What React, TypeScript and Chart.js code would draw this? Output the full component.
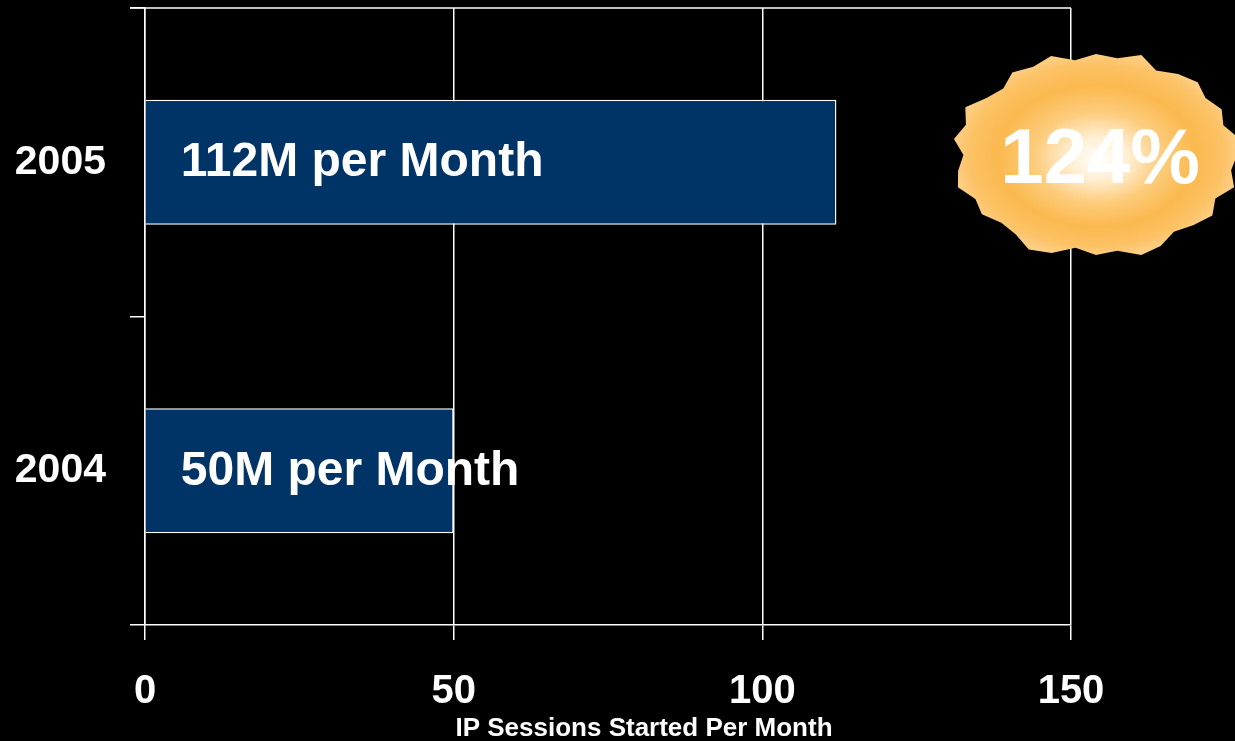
import React, { useEffect, useRef } from "react";
import { Chart, registerables } from "chart.js";

Chart.register(...registerables);

const categories = ["2005", "2004"];
const sessions = [112, 50];
const barLabels = ["112M per Month", "50M per Month"];
const xTicks = [0, 50, 100, 150];
const axisTitle = "IP Sessions Started Per Month";
const growthLabel = "124%";

const FONT = "'Liberation Sans', Arial, Helvetica, sans-serif";
const burstJitter = [
  1.0, 0.97, 1.03, 0.95, 1.02, 0.98, 0.94, 1.01, 1.04, 0.96, 0.99, 0.93,
  1.02, 1.05, 0.97, 0.95, 1.0, 0.96, 1.03, 0.99, 0.94, 1.02, 0.97, 1.04,
  0.96, 0.93, 1.01, 0.98, 1.03, 0.95, 1.0, 0.97, 1.04, 0.94, 0.99, 1.02,
  0.96, 1.0, 0.95, 1.03,
];

const overlayPlugin = {
  id: "overlay",
  afterDatasetsDraw(chart: any) {
    const ctx = chart.ctx;
    const meta = chart.getDatasetMeta(0);
    ctx.save();
    ctx.fillStyle = "#ffffff";
    ctx.font = `bold 48px ${FONT}`;
    ctx.textBaseline = "middle";
    ctx.textAlign = "left";
    meta.data.forEach((bar: any, i: number) => {
      ctx.fillText(barLabels[i], bar.base + 35, bar.y + 1);
    });
    ctx.restore();
  },
  afterDraw(chart: any) {
    const ctx = chart.ctx;
    const area = chart.chartArea;
    ctx.save();
    ctx.strokeStyle = "#ffffff";
    ctx.lineWidth = 1.5;
    ctx.beginPath();
    ctx.moveTo(area.left - 15, area.top);
    ctx.lineTo(area.right, area.top);
    ctx.stroke();

    ctx.fillStyle = "#ffffff";
    ctx.font = `bold 26px ${FONT}`;
    ctx.textAlign = "center";
    ctx.textBaseline = "middle";
    ctx.fillText(axisTitle, (area.left + area.right) / 2 + 36, area.bottom + 104);

    const cx = area.right + 25;
    const cy = area.top + 147;
    const rx = 141;
    const ry = 101;
    const n = burstJitter.length;
    ctx.beginPath();
    for (let i = 0; i < n; i++) {
      const a = (i / n) * Math.PI * 2;
      const r = burstJitter[i];
      const px = cx + Math.cos(a) * rx * r;
      const py = cy + Math.sin(a) * ry * r;
      if (i === 0) ctx.moveTo(px, py);
      else ctx.lineTo(px, py);
    }
    ctx.closePath();
    ctx.save();
    ctx.translate(cx, cy);
    ctx.scale(1, ry / rx);
    const g = ctx.createRadialGradient(3, 6, 0, 0, 0, rx);
    g.addColorStop(0, "#ffffff");
    g.addColorStop(0.2, "#fff0d6");
    g.addColorStop(0.45, "#fdcc7c");
    g.addColorStop(0.7, "#fbb94f");
    g.addColorStop(0.9, "#fcc265");
    g.addColorStop(1, "#fdcd82");
    ctx.fillStyle = g;
    ctx.fill();
    ctx.restore();

    ctx.fillStyle = "#ffffff";
    ctx.font = `bold 78px ${FONT}`;
    ctx.textAlign = "center";
    ctx.textBaseline = "middle";
    ctx.fillText(growthLabel, cx + 4, cy + 6);
    ctx.restore();
  },
};

export default function App() {
  const ref = useRef<HTMLCanvasElement | null>(null);
  useEffect(() => {
    if (!ref.current) return;
    const chart = new Chart(ref.current, {
      type: "bar",
      data: {
        labels: categories,
        datasets: [
          {
            data: sessions,
            backgroundColor: "#003366",
            borderColor: "#ffffff",
            borderWidth: 1.5,
            categoryPercentage: 1,
            barPercentage: 0.405,
          },
        ],
      },
      plugins: [overlayPlugin],
      options: {
        indexAxis: "y",
        animation: false,
        responsive: false,
        maintainAspectRatio: false,
        layout: { padding: { top: 8, right: 164, left: 0, bottom: 0 } },
        plugins: { legend: { display: false }, tooltip: { enabled: false } },
        scales: {
          x: {
            min: 0,
            max: 150,
            afterBuildTicks: (scale: any) => {
              scale.ticks = xTicks.map((v) => ({ value: v }));
            },
            afterFit: (scale: any) => {
              scale.height = 116;
              scale.paddingLeft = 0;
              scale.paddingRight = 0;
            },
            grid: {
              color: "#ffffff",
              lineWidth: 1.5,
              tickLength: 15,
              drawTicks: true,
            },
            border: { color: "#ffffff", width: 1.5 },
            ticks: {
              color: "#ffffff",
              font: { family: FONT, size: 40, weight: "bold" },
              padding: 28,
              maxRotation: 0,
            },
          },
          y: {
            afterFit: (scale: any) => {
              scale.width = 145;
              scale.paddingTop = 0;
              scale.paddingBottom = 0;
            },
            grid: {
              color: "#ffffff",
              lineWidth: 1.5,
              drawOnChartArea: false,
              drawTicks: true,
              tickLength: 15,
              offset: true,
            },
            border: { color: "#ffffff", width: 1.5 },
            ticks: {
              color: "#ffffff",
              font: { family: FONT, size: 41, weight: "bold" },
              padding: 24,
            },
          },
        },
      },
    } as any);
    return () => chart.destroy();
  }, []);
  return (
    <div
      style={{
        position: "fixed",
        left: 0,
        top: 0,
        width: 1235,
        height: 741,
        background: "#000000",
        overflow: "hidden",
      }}
    >
      <canvas ref={ref} width={1235} height={741} style={{ display: "block" }} />
    </div>
  );
}
